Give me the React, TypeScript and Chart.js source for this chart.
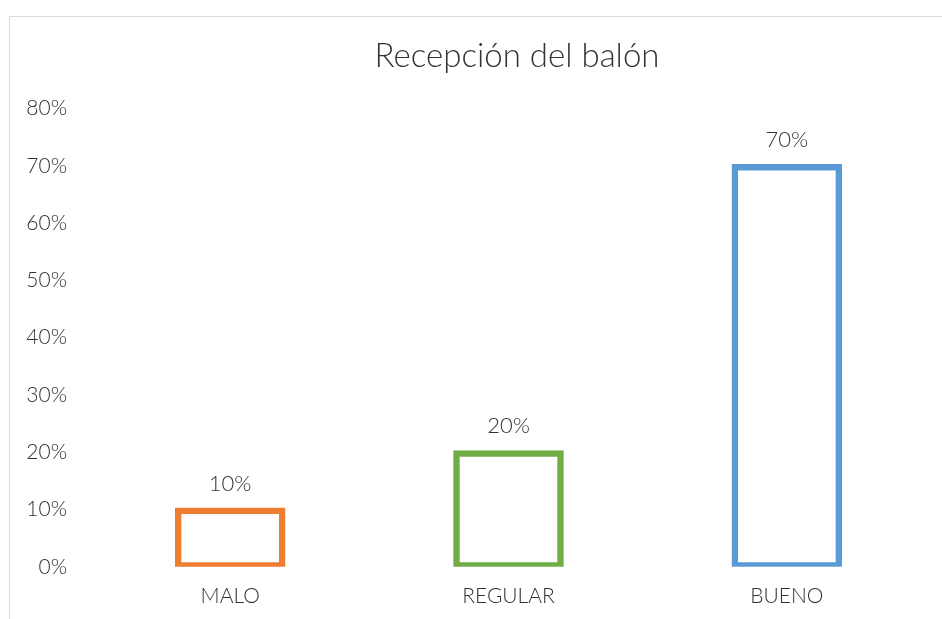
import React, { useEffect, useRef } from "react";
import { Chart, registerables } from "chart.js";

Chart.register(...registerables);

const title = "Recepción del balón";
const categories = ["MALO", "REGULAR", "BUENO"];
const values = [10, 20, 70];
const barColors = ["#ED7D31", "#70AD47", "#5B9BD5"];
const yTicks = [0, 10, 20, 30, 40, 50, 60, 70, 80];

const FONT = "Lato, 'Open Sans', sans-serif";
const TEXT = "#333333";

const valueLabels = {
  id: "valueLabels",
  afterDatasetsDraw(chart: any) {
    const ctx = chart.ctx;
    const meta = chart.getDatasetMeta(0);
    ctx.save();
    ctx.font = `300 22px ${FONT}`;
    ctx.fillStyle = TEXT;
    ctx.textAlign = "center";
    ctx.textBaseline = "alphabetic";
    meta.data.forEach((bar: any, i: number) => {
      ctx.fillText(`${values[i]}%`, bar.x, bar.y - 19);
    });
    ctx.restore();
  },
};

export default function App() {
  const ref = useRef<HTMLCanvasElement>(null);
  useEffect(() => {
    const chart = new Chart(ref.current!, {
      type: "bar",
      data: {
        labels: categories,
        datasets: [
          {
            data: values,
            backgroundColor: "rgba(255,255,255,0)",
            borderColor: barColors,
            borderWidth: 2.5,
            inflateAmount: 2,
            borderSkipped: false,
            categoryPercentage: 1,
            barPercentage: 0.383,
          } as any,
        ],
      },
      options: {
        responsive: false,
        animation: false,
        layout: { padding: { left: 0, right: 0, top: 0, bottom: 29 } },
        plugins: {
          legend: { display: false },
          tooltip: { enabled: false },
          title: {
            display: true,
            text: title,
            color: TEXT,
            font: { family: FONT, size: 33, weight: "300" as any, lineHeight: 1.2 },
            padding: { top: 20, bottom: 32 },
          },
        },
        scales: {
          x: {
            grid: { display: false, drawTicks: false },
            border: { display: false },
            ticks: {
              color: TEXT,
              padding: 17,
              font: { family: FONT, size: 21, weight: "300" as any },
            },
          },
          y: {
            min: 0,
            max: 80,
            afterFit: (s: any) => {
              s.width = 81;
            },
            afterBuildTicks: (s: any) => {
              s.ticks = yTicks.map((v) => ({ value: v }));
            },
            grid: { display: false, drawTicks: false },
            border: { display: false },
            ticks: {
              color: TEXT,
              padding: 24,
              font: { family: FONT, size: 21, weight: "300" as any },
              callback: (v: any) => `${v}%`,
            },
          },
          yRight: {
            position: "right",
            display: true,
            afterFit: (s: any) => {
              s.width = 98;
            },
            grid: { display: false, drawTicks: false },
            border: { display: false },
            ticks: { display: false },
          },
        },
      },
      plugins: [valueLabels],
    });
    return () => chart.destroy();
  }, []);

  return (
    <div
      style={{
        position: "fixed",
        left: 0,
        top: 0,
        width: 942,
        height: 619,
        overflow: "hidden",
        background: "#fff",
      }}
    >
      <div
        style={{
          position: "absolute",
          left: 9,
          top: 16,
          borderTop: "1px solid #d9d9d9",
          borderLeft: "1px solid #d9d9d9",
          width: 1014,
          height: 638,
        }}
      >
        <canvas ref={ref} width={1014} height={638} style={{ display: "block" }} />
      </div>
    </div>
  );
}
